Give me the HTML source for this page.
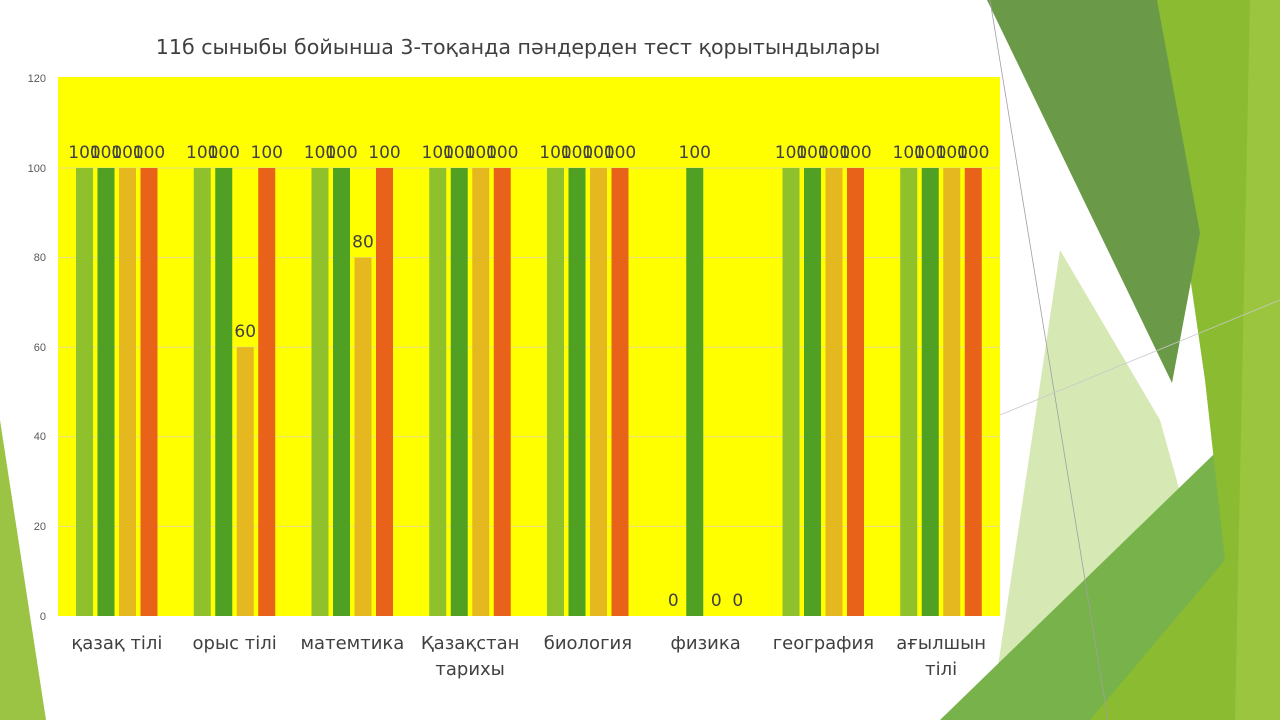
<!DOCTYPE html>
<html><head><meta charset="utf-8"><style>
html,body{margin:0;padding:0;background:#fff;width:1280px;height:720px;overflow:hidden}
svg{display:block;font-family:"DejaVu Sans","Liberation Sans",sans-serif}
</style></head><body>
<svg id="s" width="1280" height="720" viewBox="0 0 1280 720" xmlns="http://www.w3.org/2000/svg">
<polygon points="0,420 46,720 0,720" fill="#9cc444"/>
<polygon points="1060,250 1160,420 1210,600 1080,720 990,720" fill="#d6e8b4"/>
<polygon points="940,720 1280,390 1280,720" fill="#78b24a"/>
<polygon points="1150,0 1280,0 1280,720 1090,720 1225,560 1205,380" fill="#8bbb30"/>
<polygon points="1250,0 1280,0 1280,720 1235,720" fill="#9bc53e"/>
<polygon points="987,0 1157,0 1200,233 1172,383" fill="#6a9a48"/>
<line x1="990" y1="0" x2="1108" y2="720" stroke="#a0a0a0" stroke-width="0.8"/>
<line x1="1000" y1="415" x2="1280" y2="300" stroke="#c8c8c8" stroke-width="0.8"/>
<rect x="58" y="77" width="942" height="539" fill="#ffff00"/>
<g id="grid" stroke="#e6e08a" stroke-width="1"></g>
<g id="bars"></g>
<g id="labels" font-size="17" fill="#404040" text-anchor="middle"></g>
<g font-size="11" fill="#595959" text-anchor="end" font-family="Liberation Sans, sans-serif">
<text x="46" y="620">0</text><text x="46" y="530">20</text><text x="46" y="440">40</text>
<text x="46" y="351">60</text><text x="46" y="261">80</text><text x="46" y="172">100</text><text x="46" y="82">120</text>
</g>
<text x="518" y="54" font-size="20.6" fill="#404040" text-anchor="middle">11б сыныбы бойынша 3-тоқанда пәндерден тест қорытындылары</text>
<g font-size="18" fill="#404040" text-anchor="middle" id="cats"></g>
</svg>
<script>
var ns="http://www.w3.org/2000/svg";
function el(p,t,a,txt){var e=document.createElementNS(ns,t);for(var k in a)e.setAttribute(k,a[k]);if(txt!=null)e.textContent=txt;document.getElementById(p).appendChild(e);}
for(var i=1;i<=5;i++){var y=616-i*89.6;el('grid','line',{x1:58,x2:1000,y1:y,y2:y});}
var data=[[100,100,100,100],[100,100,60,100],[100,100,80,100],[100,100,100,100],[100,100,100,100],[0,100,0,0],[100,100,100,100],[100,100,100,100]];
var cols=["#8fc12c","#50a024","#e6b820","#e8621a"];
var cats=[["қазақ тілі"],["орыс тілі"],["матемтика"],["Қазақстан","тарихы"],["биология"],["физика"],["география"],["ағылшын","тілі"]];
for(var g=0;g<8;g++){var cx=58+g*117.75;
 for(var b=0;b<4;b++){var v=data[g][b];var x=cx+18+b*21.5;var h=v*4.48;
  if(v>0)el('bars','rect',{x:x,y:616-h,width:17,height:h,fill:cols[b]});
  el('labels','text',{x:x+8.5,y:616-h-10},String(v));}
 var c=cats[g];for(var j=0;j<c.length;j++)el('cats','text',{x:cx+58.9,y:649+j*26},c[j]);
}
</script>
</body></html>
